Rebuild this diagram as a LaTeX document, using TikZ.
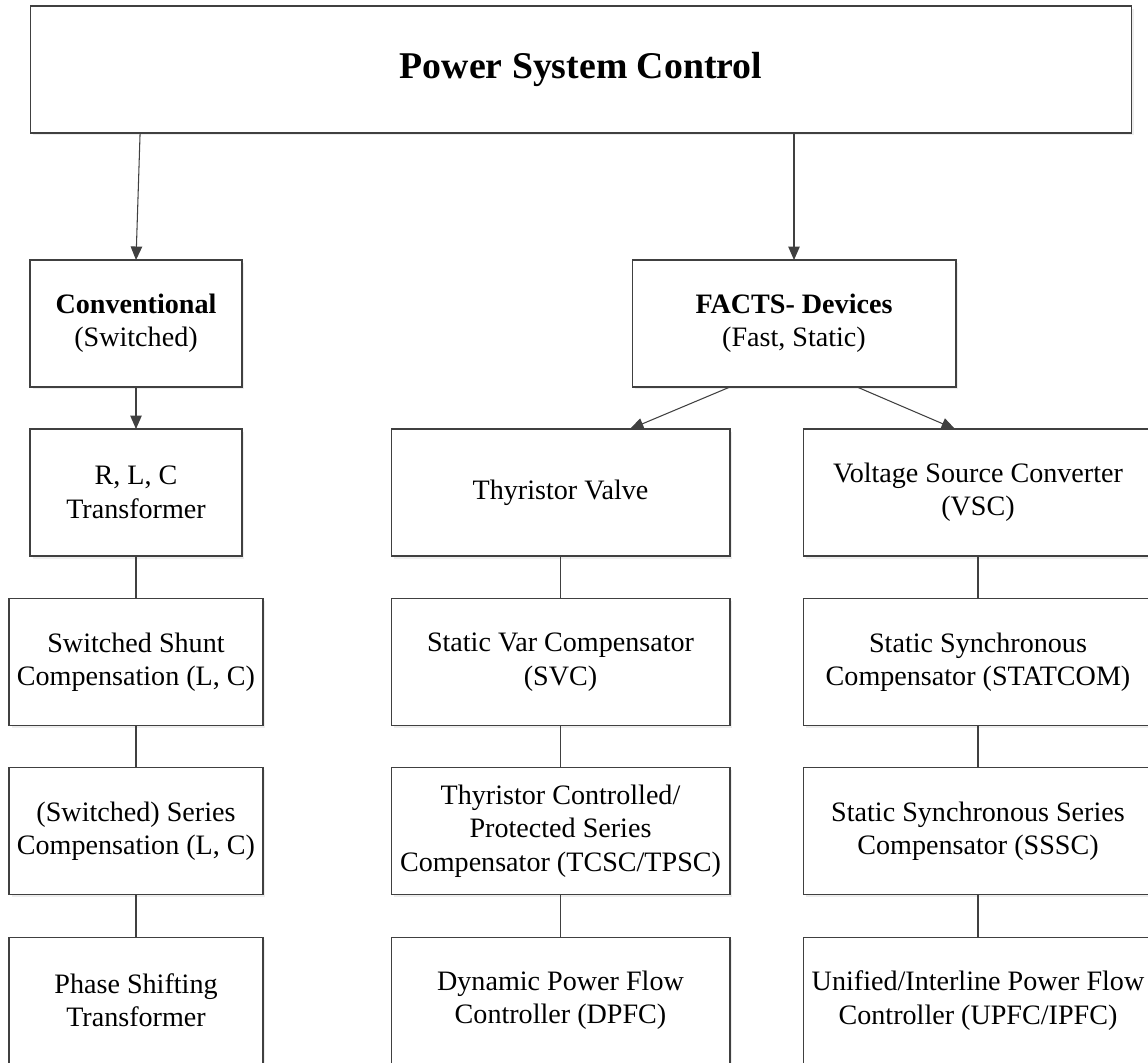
\documentclass[tikz,border=0pt]{standalone}
\usepackage{fontspec}
\setmainfont{Liberation Serif}
\usepackage{tikz}
\usetikzlibrary{arrows.meta,shadows}
\definecolor{linegray}{HTML}{404040}

\begin{document}
\begin{tikzpicture}[x = 0.02cm, y = -0.02cm, >= {Triangle[length=0.27cm, width=0.23cm]},
    box/.style = {draw = linegray, line width = 0.6pt, fill = white, align = center,
      minimum height = 2.54cm, inner sep = 0pt, outer sep = 0pt,
      font = \fontsize{16}{19}\selectfont,
      drop shadow = {shadow xshift = 0.05cm, shadow yshift = -0.05cm, fill = black!14}},
    link/.style = {draw = linegray, line width = 0.6pt}]
      \clip (0, 0) rectangle (1148, 1062);
      \node[box, minimum width = 22.04cm, font = \fontsize{21.5}{25}\selectfont\bfseries] (psc) at (581, 69.5) {Power System Control};
      \node[box, minimum width = 4.24cm] (conv) at (136, 323.5) {\textbf{Conventional}\\(Switched)};
      \node[box, minimum width = 6.48cm] (facts) at (794, 323.5) {\textbf{FACTS- Devices}\\(Fast, Static)};
      % left column
      \node[box, minimum width = 4.24cm] (rlc) at (136, 492.5) {R, L, C\\Transformer};
      \node[box, minimum width = 5.08cm] (shunt) at (136, 662) {Switched Shunt\\Compensation (L, C)};
      \node[box, minimum width = 5.08cm] (series) at (136, 831) {(Switched) Series\\Compensation (L, C)};
      \node[box, minimum width = 5.08cm] (pst) at (136, 1000.5) {Phase Shifting\\Transformer};
      % middle column
      \node[box, minimum width = 6.78cm] (thy) at (560.5, 492.5) {Thyristor Valve};
      \node[box, minimum width = 6.78cm] (svc) at (560.5, 662) {Static Var Compensator\\(SVC)};
      \node[box, minimum width = 6.78cm] (tcsc) at (560.5, 831) {Thyristor Controlled/\\Protected Series\\Compensator (TCSC/TPSC)};
      \node[box, minimum width = 6.78cm] (dpfc) at (560.5, 1000.5) {Dynamic Power Flow\\Controller (DPFC)};
      % right column
      \node[box, minimum width = 7cm] (vsc) at (978, 492.5) {Voltage Source Converter\\(VSC)};
      \node[box, minimum width = 7cm] (statcom) at (978, 662) {Static Synchronous\\Compensator (STATCOM)};
      \node[box, minimum width = 7cm] (sssc) at (978, 831) {Static Synchronous Series\\Compensator (SSSC)};
      \node[box, minimum width = 7cm] (upfc) at (978, 1000.5) {Unified/Interline Power Flow\\Controller (UPFC/IPFC)};
      \draw[link, ->] ([xshift = 2.2cm]psc.south west) -- (conv.north);
      \draw[link, ->] (psc.south -| facts.north) -- (facts.north);
      \draw[link, ->] (conv.south) -- (rlc.north);
      \draw[link, ->] ([xshift = 1.96cm]facts.south west) -- ([xshift = 4.78cm]thy.north west);
      \draw[link, ->] ([xshift = 4.5cm]facts.south west) -- ([xshift = 3.04cm]vsc.north west);
      \draw[link] (rlc.south) -- (shunt.north);
      \draw[link] (shunt.south) -- (series.north);
      \draw[link] (series.south) -- (pst.north);
      \draw[link] (thy.south) -- (svc.north);
      \draw[link] (svc.south) -- (tcsc.north);
      \draw[link] (tcsc.south) -- (dpfc.north);
      \draw[link] (vsc.south) -- (statcom.north);
      \draw[link] (statcom.south) -- (sssc.north);
      \draw[link] (sssc.south) -- (upfc.north);
    \end{tikzpicture}
\end{document}
